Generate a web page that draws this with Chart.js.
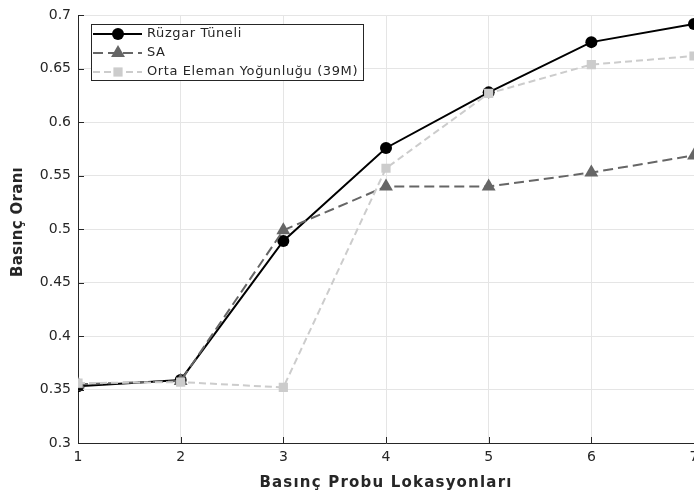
<!DOCTYPE html>
<html>
<head>
<meta charset="utf-8">
<script src="https://cdn.jsdelivr.net/npm/chart.js@4.4.1/dist/chart.umd.min.js"></script>
<style>
  html, body { margin: 0; padding: 0; overflow: hidden; background: #fff; }
  #wrap { position: absolute; left: 0; top: 0; width: 720px; height: 497px; }
</style>
</head>
<body>
<div id="wrap"><canvas id="pressureChart" width="720" height="497"></canvas></div>
<script>
// Basınç oranları - probe konumlarına göre
const locations = [1, 2, 3, 4, 5, 6, 7];
const ruzgarTuneli = [0.353, 0.359, 0.489, 0.576, 0.628, 0.675, 0.692];
const saValues = [0.355, 0.358, 0.499, 0.540, 0.540, 0.553, 0.569];
const ortaEleman = [0.356, 0.357, 0.352, 0.557, 0.627, 0.654, 0.662];
const xTicks = [1, 2, 3, 4, 5, 6, 7];
const yTicks = [0.3, 0.35, 0.4, 0.45, 0.5, 0.55, 0.6, 0.65, 0.7];
const xTitle = 'Basınç Probu Lokasyonları';
const yTitle = 'Basınç Oranı';

const toPoints = (vals) => locations.map((x, i) => ({ x: x, y: vals[i] }));

// MATLAB tarzı lejant, eksen başlıkları ve içe dönük tikler
const matlabStyle = {
    id: 'matlabStyle',
    afterDraw(chart) {
        const c = chart.ctx;
        const a = chart.chartArea;
        const xs = chart.scales.x, ys = chart.scales.y;
        c.save();
        c.strokeStyle = '#262626';
        c.lineWidth = 1;
        c.beginPath();
        xTicks.forEach(t => {
            const px = Math.round(xs.getPixelForValue(t)) + 0.5;
            c.moveTo(px, a.bottom); c.lineTo(px, a.bottom - 6);
        });
        yTicks.forEach(t => {
            const py = Math.round(ys.getPixelForValue(t)) + 0.5;
            c.moveTo(a.left, py); c.lineTo(a.left + 6, py);
        });
        c.stroke();

        // eksen başlıkları
        c.fillStyle = '#262626';
        c.font = 'bold 15px "DejaVu Sans"';
        c.textAlign = 'center';
        c.textBaseline = 'middle';
        c.letterSpacing = '1.2px';
        c.fillText(xTitle, (a.left + 694) / 2, 483);
        c.letterSpacing = '0.3px';
        c.save();
        c.translate(18, 222);
        c.rotate(-Math.PI / 2);
        c.fillText(yTitle, 0, 0);
        c.restore();

        // lejant kutusu
        const bx = 91.5, by = 24.5, bw = 272, bh = 56;
        c.fillStyle = '#fff';
        c.fillRect(bx, by, bw, bh);
        c.strokeStyle = '#262626';
        c.lineWidth = 1;
        c.strokeRect(bx, by, bw, bh);
        c.font = '13px "DejaVu Sans"';
        c.letterSpacing = '0.6px';
        c.textAlign = 'left';
        chart.data.datasets.forEach((ds, i) => {
            const ry = 34 + i * 19;
            c.strokeStyle = ds.borderColor;
            c.lineWidth = ds.borderWidth;
            c.setLineDash(ds.borderDash || []);
            c.beginPath();
            c.moveTo(93, ry); c.lineTo(142, ry);
            c.stroke();
            c.setLineDash([]);
            c.fillStyle = ds.pointBackgroundColor;
            const r = ds.pointRadius;
            c.beginPath();
            if (ds.pointStyle === 'circle') {
                c.arc(118, ry, r, 0, Math.PI * 2);
            } else if (ds.pointStyle === 'triangle') {
                c.moveTo(118, ry - r); c.lineTo(118 + r * 0.866, ry + r * 0.5); c.lineTo(118 - r * 0.866, ry + r * 0.5); c.closePath();
            } else {
                const h = r * Math.SQRT1_2;
                c.rect(118 - h, ry - h, 2 * h, 2 * h);
            }
            c.fill();
            c.fillStyle = '#262626';
            c.fillText(ds.label, 147, ry);
        });
        c.restore();
    }
};

const ctx = document.getElementById('pressureChart').getContext('2d');
const pressureChart = new Chart(ctx, {
    type: 'line',
    data: {
        datasets: [{
            label: 'Rüzgar Tüneli',
            data: toPoints(ruzgarTuneli),
            borderColor: '#000000',
            backgroundColor: '#000000',
            pointBackgroundColor: '#000000',
            pointStyle: 'circle',
            pointRadius: 6,
            pointBorderWidth: 0,
            borderWidth: 2,
            order: 2
        }, {
            label: 'SA',
            data: toPoints(saValues),
            borderColor: '#666666',
            backgroundColor: '#666666',
            pointBackgroundColor: '#666666',
            pointStyle: 'triangle',
            pointRadius: 8,
            pointBorderWidth: 0,
            borderWidth: 2,
            borderDash: [10, 5],
            order: 1
        }, {
            label: 'Orta Eleman Yoğunluğu (39M)',
            data: toPoints(ortaEleman),
            borderColor: '#cccccc',
            backgroundColor: '#cccccc',
            pointBackgroundColor: '#cccccc',
            pointStyle: 'rect',
            pointRadius: 6.5,
            pointBorderWidth: 0,
            borderWidth: 2,
            borderDash: [7, 4],
            order: 0
        }]
    },
    options: {
        responsive: false,
        animation: false,
        layout: { padding: { top: 12, right: 26, left: 0, bottom: 0 } },
        plugins: {
            legend: { display: false },
            tooltip: { enabled: false }
        },
        scales: {
            x: {
                type: 'linear',
                min: 1,
                max: 7,
                afterBuildTicks: (s) => { s.ticks = xTicks.map(v => ({ value: v })); },
                afterFit: (s) => { s.height = 54; },
                grid: { color: '#e5e5e5', tickLength: 0 },
                border: { color: '#262626', width: 1 },
                ticks: { color: '#262626', font: { family: 'DejaVu Sans', size: 14 }, padding: 6, maxRotation: 0 }
            },
            y: {
                type: 'linear',
                min: 0.3,
                max: 0.7,
                afterBuildTicks: (s) => { s.ticks = yTicks.map(v => ({ value: v })); },
                afterFit: (s) => { s.width = 78; },
                grid: { color: '#e5e5e5', tickLength: 0 },
                border: { color: '#262626', width: 1 },
                ticks: {
                    color: '#262626',
                    font: { family: 'DejaVu Sans', size: 14 },
                    padding: 7,
                    callback: (v) => String(Number(v.toFixed(2)))
                }
            }
        }
    },
    plugins: [matlabStyle]
});
</script>
</body>
</html>
